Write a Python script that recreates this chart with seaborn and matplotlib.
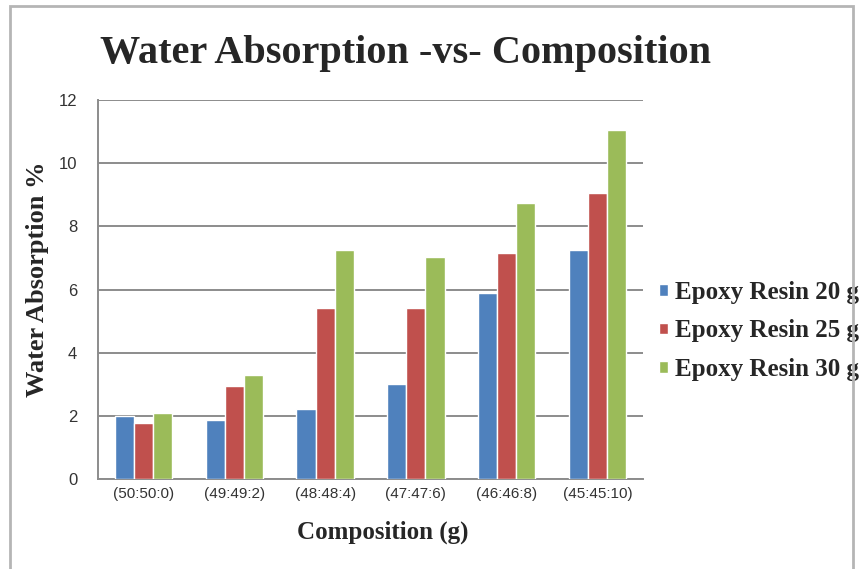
import matplotlib
matplotlib.use("Agg")
import matplotlib.pyplot as plt
import seaborn as sns
import pandas as pd
from matplotlib.patches import Rectangle

# Water absorption (%) per composition for each epoxy resin amount
compositions = ["(50:50:0)", "(49:49:2)", "(48:48:4)", "(47:47:6)", "(46:46:8)", "(45:45:10)"]
resin_20g = [2.00, 1.88, 2.22, 3.01, 5.89, 7.26]
resin_25g = [1.76, 2.93, 5.40, 5.40, 7.14, 9.06]
resin_30g = [2.09, 3.30, 7.26, 7.02, 8.74, 11.06]
series_names = ["Epoxy Resin 20 g", "Epoxy Resin 25 g", "Epoxy Resin 30 g"]
yticks = [0, 2, 4, 6, 8, 10, 12]

rows = []
for name, vals in zip(series_names, [resin_20g, resin_25g, resin_30g]):
    for comp, v in zip(compositions, vals):
        rows.append({"Composition": comp, "Series": name, "Value": v})
df = pd.DataFrame(rows)

sns.set_style("white")
serif = ["Liberation Serif", "DejaVu Serif"]
sans = ["Liberation Sans Narrow", "Liberation Sans", "DejaVu Sans"]

fig = plt.figure(figsize=(8.66, 5.69), dpi=100)
ax = fig.add_axes([98 / 866, 1 - 479 / 569, (643 - 98) / 866, (479 - 100) / 569])

palette = ["#4F81BD", "#C0504D", "#9BBB59"]
sns.barplot(data=df, x="Composition", y="Value", hue="Series", order=compositions,
            hue_order=series_names, palette=palette, width=0.63, saturation=1,
            ax=ax, legend=True, zorder=3)

ax.set_ylim(0, 12)
ax.set_yticks(yticks)
ax.set_yticklabels([str(t) for t in yticks], family=sans, fontsize=12, color="#333333")
ax.set_xticks(range(len(compositions)))
ax.set_xticklabels(compositions, family=sans, fontsize=11, color="#333333")
ax.tick_params(axis="y", length=0, pad=15)
ax.tick_params(axis="x", length=0, pad=6)
ax.grid(axis="y", color="#8C8C8C", linewidth=1.4, zorder=0)
ax.set_axisbelow(True)
for side in ["top", "right"]:
    ax.spines[side].set_visible(False)
for side in ["left", "bottom"]:
    ax.spines[side].set_color("#8C8C8C")
    ax.spines[side].set_linewidth(1.4)

ax.set_xlabel("Composition (g)", family=serif, fontweight="bold", fontsize=18)
ax.xaxis.set_label_coords(383 / 866, 1 - 532 / 569, transform=fig.transFigure)
ax.set_ylabel("Water Absorption %", family=serif, fontweight="bold", fontsize=19)
ax.yaxis.set_label_coords(38 / 866, 1 - 279 / 569, transform=fig.transFigure)
ax.xaxis.label.set_va("center")
ax.yaxis.label.set_va("center")

fig.text(405 / 866, 1 - 53 / 569, "Water Absorption -vs- Composition", family=serif,
         fontweight="bold", fontsize=29, ha="center", va="center")

handles, labels = ax.get_legend_handles_labels()
ax.legend(handles, labels, loc="center left", bbox_to_anchor=(659 / 866, 1 - 331 / 569),
          bbox_transform=fig.transFigure, frameon=False, handlelength=0.35, handleheight=0.35,
          handletextpad=0.3, labelspacing=0.62, borderaxespad=0, borderpad=0,
          prop={"family": serif, "weight": "bold", "size": 18})

fig.patches.append(Rectangle((10 / 866, -0.05), (853 - 10) / 866, 1.05 - 6 / 569,
                             transform=fig.transFigure, fill=False,
                             edgecolor="#B5B5B5", linewidth=2))

fig.savefig("out.png", dpi=100, facecolor="white")
